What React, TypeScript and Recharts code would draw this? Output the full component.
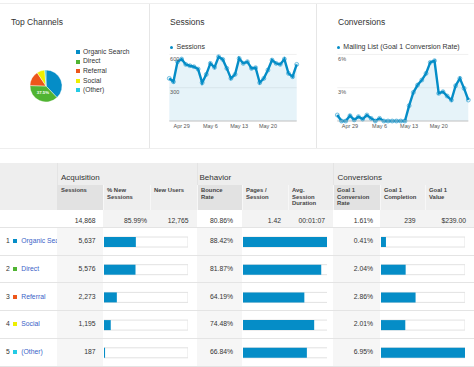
import React from 'react';
import { PieChart, Pie, Cell, AreaChart, Area, XAxis, YAxis, CartesianGrid, BarChart, Bar } from 'recharts';

// ---------- data ----------
const channels = ['Organic Search', 'Direct', 'Referral', 'Social', '(Other)'];
const channelColors = ['#058DC7', '#50B432', '#ED561B', '#EDEF00', '#24CBE5'];
const sessionsByChannel = [5637, 5576, 2273, 1195, 187];
const sessionsLabels = ['5,637', '5,576', '2,273', '1,195', '187'];
const bounceRates = [88.42, 81.87, 64.19, 74.48, 66.84];
const convRates = [0.41, 2.04, 2.86, 2.01, 6.95];

const totalLabels = ['14,868', '85.99%', '12,765', '80.86%', '1.42', '00:01:07', '1.61%', '239', '$239.00'];
const groupLabels = ['Acquisition', 'Behavior', 'Conversions'];
const columnHeaders = [
  ['Sessions'],
  ['% New', 'Sessions'],
  ['New Users'],
  ['Bounce', 'Rate'],
  ['Pages /', 'Session'],
  ['Avg.', 'Session', 'Duration'],
  ['Goal 1', 'Conversion', 'Rate'],
  ['Goal 1', 'Completion'],
  ['Goal 1', 'Value'],
];

const dates = [
  'Apr 26', 'Apr 27', 'Apr 28', 'Apr 29', 'Apr 30',
  'May 1', 'May 2', 'May 3', 'May 4', 'May 5', 'May 6', 'May 7', 'May 8', 'May 9',
  'May 10', 'May 11', 'May 12', 'May 13', 'May 14', 'May 15', 'May 16', 'May 17',
  'May 18', 'May 19', 'May 20', 'May 21', 'May 22', 'May 23', 'May 24', 'May 25',
  'May 26', 'May 27',
];
const dailySessions = [
  384, 354, 534, 558, 510, 498, 489, 468, 345, 420, 519, 483, 579, 555, 474, 384,
  420, 564, 519, 534, 474, 480, 345, 384, 459, 549, 519, 510, 558, 429, 399, 510,
];
const dailyConvRate = [
  0.54, 0, 0, 0.48, 0.1, 0.39, 0.18, 0.54, 0.24, 0, 0.24, 0, 0, 0, 0, 0,
  0, 1.38, 2.58, 3.24, 3.69, 4.29, 5.28, 5.43, 2.49, 2.64, 2.25, 1.89, 3.18, 3.84, 2.94, 1.89,
];
const dateTicks = ['Apr 29', 'May 6', 'May 13', 'May 20'];
const sessionsTicks = [0, 300, 600];
const convTicks = [0, 3, 6];

// ---------- derived ----------
const W = 474;
const H = 367;
const FONT = 'Arial, "Liberation Sans", Helvetica, sans-serif';
const BLUE = '#058DC7';

const pieData = channels.map((name, i) => ({ name, value: sessionsByChannel[i] }));
const trendData = dates.map((d, i) => ({ i, date: d, sessions: dailySessions[i], conv: dailyConvRate[i] }));
const tableRows = channels.map((name, i) => ({
  name,
  sessions: sessionsByChannel[i],
  bounce: bounceRates[i],
  conv: convRates[i],
}));
const totalSessions = sessionsByChannel.reduce((a, b) => a + b, 0);

// ---------- helpers ----------
function Txt({ x, y, text, size = 7, color = '#333', weight = 400, anchor = 'start', clip }: any) {
  const lh = size * 1.25;
  const style: React.CSSProperties = {
    position: 'absolute',
    top: y - lh / 2,
    fontSize: size,
    lineHeight: `${lh}px`,
    color,
    fontWeight: weight,
    whiteSpace: 'nowrap',
  };
  if (anchor === 'end') style.right = W - x;
  else style.left = x;
  if (clip) {
    style.width = clip;
    style.overflow = 'hidden';
  }
  return <div style={style}>{text}</div>;
}

function Box({ x, y, w, h, bg }: any) {
  return <div style={{ position: 'absolute', left: x, top: y, width: w, height: h, background: bg }} />;
}

const RAD = Math.PI / 180;
function pieLabel(props: any) {
  const { cx, cy, midAngle, outerRadius, percent, index } = props;
  if (index !== 1) return null;
  const r = outerRadius * 0.47;
  const x = cx + r * Math.cos(-midAngle * RAD);
  const y = cy + r * Math.sin(-midAngle * RAD);
  return (
    <text x={x} y={y} fill="#fff" fontSize={4.3} fontWeight={700} textAnchor="middle" dominantBaseline="central" fontFamily={FONT}>
      {(percent * 100).toFixed(1)}%
    </text>
  );
}

function TrendChart({ left, width, dataKey, yMax, yTicks, fmt, marginRight }: any) {
  const plotLeft = 29.3;
  const yTick = (props: any) => {
    const { y, payload } = props;
    if (payload.value === 0) return <g />;
    return (
      <text x={plotLeft + 0.8} y={y + 4.6} fontSize={5.5} fill="#555" dominantBaseline="central" fontFamily={FONT}>
        {fmt(payload.value)}
      </text>
    );
  };
  return (
    <div style={{ position: 'absolute', left, top: 40 }}>
      <AreaChart width={width} height={100} data={trendData} margin={{ top: 14.4, right: marginRight, bottom: 7, left: 9.3 }}>
        <CartesianGrid vertical={false} stroke="#f0f0f0" />
        <XAxis
          type="number"
          dataKey="i"
          domain={[0, dates.length - 1]}
          ticks={dateTicks.map((d) => dates.indexOf(d))}
          tickFormatter={(v: number) => dates[v]}
          tickLine={false}
          axisLine={{ stroke: '#c8c8c8' }}
          tick={{ fontSize: 5.5, fill: '#555', fontFamily: FONT }}
          tickSize={0}
          tickMargin={3}
          height={12}
          interval={0}
        />
        <YAxis width={20} domain={[0, yMax]} ticks={yTicks} axisLine={false} tickLine={false} tick={yTick} />
        <Area
          type="linear"
          dataKey={dataKey}
          stroke={BLUE}
          strokeWidth={2.4}
          fill={BLUE}
          fillOpacity={0.1}
          dot={{ r: 2, fill: BLUE, stroke: BLUE, strokeWidth: 0.5 }}
          activeDot={false}
          isAnimationActive={false}
        />
      </AreaChart>
    </div>
  );
}

function BarColumn({ left, width, dataKey, domain }: any) {
  return (
    <div style={{ position: 'absolute', left, top: 227.5 }}>
      <BarChart width={width} height={138.5} data={tableRows} layout="vertical" margin={{ top: 0, right: 0, bottom: 0, left: 0 }}>
        <XAxis type="number" hide domain={domain} />
        <YAxis type="category" dataKey="name" hide />
        <Bar dataKey={dataKey} fill={BLUE} barSize={10} background={{ fill: '#fff', stroke: '#e2e2e2', strokeWidth: 1 }} isAnimationActive={false} />
      </BarChart>
    </div>
  );
}

// ---------- layout constants ----------
const colEdges = [0, 57, 103, 150, 197, 242, 288, 333, 380, 425, 474];
const totalRight = [95.5, 147, 188.5, 233, 281, 325, 373, 415.5, 466];
const groupX = [61, 199.5, 337.5];
const highlightCols = [1, 4, 7];
const rowTop = 227.5;
const rowH = 27.7;

export default function App() {
  return (
    <div style={{ position: 'absolute', left: 0, top: 0, width: W, height: H, background: '#fff', fontFamily: FONT, overflow: 'hidden' }}>
      {/* top panels frame */}
      <Box x={0} y={3} w={W} h={1} bg="#eeeeee" />
      <Box x={0} y={148} w={W} h={1} bg="#eeeeee" />
      <Box x={149} y={4} w={1} h={144} bg="#e6e6e6" />
      <Box x={316} y={4} w={1} h={144} bg="#e6e6e6" />

      <Txt x={11} y={22} text="Top Channels" size={8.5} />
      <Txt x={170} y={22} text="Sessions" size={8.5} />
      <Txt x={338} y={22} text="Conversions" size={8.5} />

      {/* pie */}
      <div style={{ position: 'absolute', left: 25.5, top: 66 }}>
        <PieChart width={40} height={40} margin={{ top: 0, right: 0, bottom: 0, left: 0 }}>
          <Pie
            data={pieData}
            dataKey="value"
            cx={20}
            cy={20}
            outerRadius={16}
            startAngle={90}
            endAngle={-270}
            stroke="#fff"
            strokeWidth={0.4}
            labelLine={false}
            label={pieLabel}
            isAnimationActive={false}
          >
            {pieData.map((d, i) => (
              <Cell key={d.name} fill={channelColors[i]} />
            ))}
          </Pie>
        </PieChart>
      </div>
      {channels.map((c, i) => (
        <React.Fragment key={c}>
          <Box x={76} y={50 + i * 9.6} w={4} h={4} bg={channelColors[i]} />
          <Txt x={83} y={52 + i * 9.6} text={c} size={6.7} />
        </React.Fragment>
      ))}

      {/* trend legends */}
      <div style={{ position: 'absolute', left: 169.5, top: 45.5, width: 3.5, height: 3.5, borderRadius: 2, background: BLUE }} />
      <Txt x={176.5} y={47.3} text="Sessions" size={7} />
      <div style={{ position: 'absolute', left: 336.5, top: 45.5, width: 3.5, height: 3.5, borderRadius: 2, background: BLUE }} />
      <Txt x={343.3} y={47.3} text="Mailing List (Goal 1 Conversion Rate)" size={7} />

      <TrendChart left={140} width={165} dataKey="sessions" yMax={600} yTicks={sessionsTicks} fmt={(v: number) => `${v}`} marginRight={8.3} />
      <TrendChart left={308} width={166} dataKey="conv" yMax={6} yTicks={convTicks} fmt={(v: number) => `${v}%`} marginRight={5.7} />

      {/* table header */}
      <Box x={0} y={163} w={W} h={47} bg="#eeeeee" />
      {highlightCols.map((c) => (
        <Box key={'hh' + c} x={colEdges[c]} y={185} w={colEdges[c + 1] - colEdges[c]} h={25} bg="#e2e2e2" />
      ))}
      {colEdges.slice(2, 10).map((x) => (
        <Box key={'vs' + x} x={x} y={185} w={1} h={25} bg="#f7f7f7" />
      ))}
      {[57, 197, 333].map((x) => (
        <Box key={'gv' + x} x={x} y={163} w={1} h={22} bg="#e4e4e4" />
      ))}
      {groupLabels.map((g, i) => (
        <Txt key={g} x={groupX[i]} y={178} text={g} size={8} />
      ))}
      {columnHeaders.map((lines, c) =>
        lines.map((ln, k) => (
          <Txt key={c + '-' + k} x={colEdges[c + 1] + 4} y={191 + k * 6.5} text={ln} size={5.9} weight={700} color="#444" />
        ))
      )}

      {/* totals row */}
      {[2, 5, 8].map((c) => (
        <Box key={'tg' + c} x={colEdges[c]} y={210} w={colEdges[c + 2] - colEdges[c]} h={17.5} bg="#f3f3f3" />
      ))}
      {totalLabels.map((t, i) => (
        <Txt key={'tot' + i} x={totalRight[i]} y={221.7} text={t} size={6.8} anchor="end" />
      ))}

      {/* data rows backgrounds */}
      {highlightCols.map((c) => (
        <Box key={'dh' + c} x={colEdges[c]} y={rowTop} w={colEdges[c + 1] - colEdges[c]} h={rowH * 5} bg="#f6f6f6" />
      ))}
      {[0, 1, 2, 3, 4, 5].map((k) => (
        <Box key={'hl' + k} x={0} y={rowTop + k * rowH - 0.5} w={W} h={1} bg="#e4e4e4" />
      ))}

      {/* data rows text */}
      {channels.map((c, i) => {
        const cy = rowTop + rowH * i + rowH / 2;
        return (
          <React.Fragment key={'row' + c}>
            <Txt x={6} y={cy} text={`${i + 1}`} size={6.8} />
            <Box x={13.3} y={cy - 2} w={4} h={4} bg={channelColors[i]} />
            <Txt x={21.3} y={cy} text={c} size={6.8} color="#3b5fc7" clip={35.5} />
            <Txt x={95.5} y={cy} text={sessionsLabels[i]} size={6.8} anchor="end" />
            <Txt x={233} y={cy} text={`${bounceRates[i].toFixed(2)}%`} size={6.8} anchor="end" />
            <Txt x={373} y={cy} text={`${convRates[i].toFixed(2)}%`} size={6.8} anchor="end" />
          </React.Fragment>
        );
      })}

      {/* bars */}
      <BarColumn left={103.5} width={84} dataKey="sessions" domain={[0, totalSessions]} />
      <BarColumn left={242.5} width={84.5} dataKey="bounce" domain={[0, 'dataMax']} />
      <BarColumn left={381} width={84} dataKey="conv" domain={[0, 'dataMax']} />
    </div>
  );
}
